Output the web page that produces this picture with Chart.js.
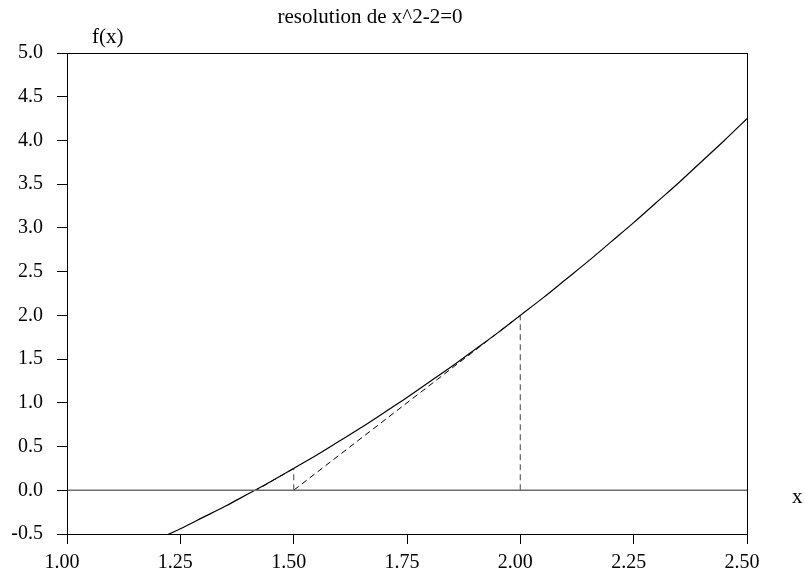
<!DOCTYPE html>
<html>
<head>
<meta charset="utf-8">
<script src="https://cdn.jsdelivr.net/npm/chart.js@4"></script>
<style>
  html, body { margin: 0; padding: 0; background: #fff; }
  #wrap { width: 805px; height: 574px; }
</style>
</head>
<body>
<div id="wrap"><canvas id="newtonChart" width="805" height="574"></canvas></div>
<script>
// curve f(x)
const curveX = [1.20, 1.25, 1.30, 1.35, 1.40, 1.45, 1.50, 1.55, 1.60, 1.65, 1.70, 1.75, 1.80, 1.85, 1.90, 1.95, 2.00, 2.05, 2.10, 2.15, 2.20, 2.25, 2.30, 2.35, 2.40, 2.45, 2.50];
const curveY = [-0.56, -0.44, -0.31, -0.18, -0.04, 0.10, 0.25, 0.40, 0.56, 0.72, 0.89, 1.06, 1.24, 1.42, 1.61, 1.80, 2.00, 2.20, 2.41, 2.62, 2.84, 3.06, 3.29, 3.52, 3.76, 4.00, 4.25];

// newton steps: verticals and tangents
const verticalX = [2.00, 2.00, null, 1.50, 1.50];
const verticalY = [0.00, 2.00, null, 0.00, 0.25];
const tangentX = [2.00, 1.50, null, 1.50, 1.417];
const tangentY = [2.00, 0.00, null, 0.25, 0.00];

const zeroX = [1.00, 2.50];
const zeroY = [0, 0];

const xTicks = [1.00, 1.25, 1.50, 1.75, 2.00, 2.25, 2.50];
const yTicks = [-0.5, 0.0, 0.5, 1.0, 1.5, 2.0, 2.5, 3.0, 3.5, 4.0, 4.5, 5.0];

const titleText = 'resolution de x^2-2=0';
const yLabel = 'f(x)';
const xLabel = 'x';

const serif = '"Liberation Serif", "DejaVu Serif", serif';

function toPoints(xs, ys) {
    return xs.map((x, i) => (x === null ? { x: NaN, y: NaN } : { x: x, y: ys[i] }));
}

const frameAndText = {
    id: 'frameAndText',
    afterDraw(chart) {
        const { ctx, chartArea } = chart;
        ctx.save();
        ctx.strokeStyle = '#000';
        ctx.lineWidth = 1;
        ctx.strokeRect(Math.round(chartArea.left) + 0.5, Math.round(chartArea.top) + 0.5,
            Math.round(chartArea.right - chartArea.left), Math.round(chartArea.bottom - chartArea.top));
        ctx.fillStyle = '#000';
        ctx.font = '21px ' + serif;
        ctx.textAlign = 'center';
        ctx.textBaseline = 'alphabetic';
        ctx.fillText(titleText, 370, 23);
        ctx.textAlign = 'left';
        ctx.fillText(yLabel, 92, 43);
        ctx.fillText(xLabel, 792, 503);
        ctx.restore();
    }
};

new Chart(document.getElementById('newtonChart').getContext('2d'), {
    type: 'line',
    data: {
        datasets: [{
            data: toPoints(zeroX, zeroY),
            borderColor: '#6e6e6e',
            borderWidth: 1.5,
            pointRadius: 0
        }, {
            data: toPoints(curveX, curveY),
            borderColor: '#000',
            borderWidth: 1.2,
            pointRadius: 0,
            tension: 0.4,
            cubicInterpolationMode: 'monotone'
        }, {
            data: toPoints(verticalX, verticalY),
            borderColor: '#6e6e6e',
            borderWidth: 1.3,
            borderDash: [6, 4],
            pointRadius: 0,
            spanGaps: false
        }, {
            data: toPoints(tangentX, tangentY),
            borderColor: '#000',
            borderWidth: 1,
            borderDash: [6, 4],
            pointRadius: 0,
            spanGaps: false
        }]
    },
    options: {
        responsive: false,
        animation: false,
        layout: { padding: { top: 53, right: 58, left: 0, bottom: 0 } },
        plugins: {
            legend: { display: false },
            tooltip: { enabled: false },
            title: { display: false }
        },
        scales: {
            x: {
                type: 'linear',
                min: 1.0,
                max: 2.5,
                afterFit: axis => { axis.height = 40; },
                afterBuildTicks: axis => { axis.ticks = xTicks.map(v => ({ value: v })); },
                grid: { drawOnChartArea: false, color: '#000', tickLength: 10 },
                border: { display: true, color: '#000' },
                ticks: {
                    color: '#000',
                    padding: 7,
                    labelOffset: -5,
                    maxRotation: 0,
                    font: { family: serif, size: 20 },
                    callback: v => v.toFixed(2)
                }
            },
            y: {
                type: 'linear',
                min: -0.5,
                max: 5.0,
                afterFit: axis => { axis.width = 67; },
                afterBuildTicks: axis => { axis.ticks = yTicks.map(v => ({ value: v })); },
                grid: { drawOnChartArea: false, color: '#000', tickLength: 10 },
                border: { display: true, color: '#000' },
                ticks: {
                    color: '#000',
                    padding: 14,
                    font: { family: serif, size: 20 },
                    callback: v => v.toFixed(1)
                }
            }
        }
    },
    plugins: [frameAndText]
});
</script>
</body>
</html>
